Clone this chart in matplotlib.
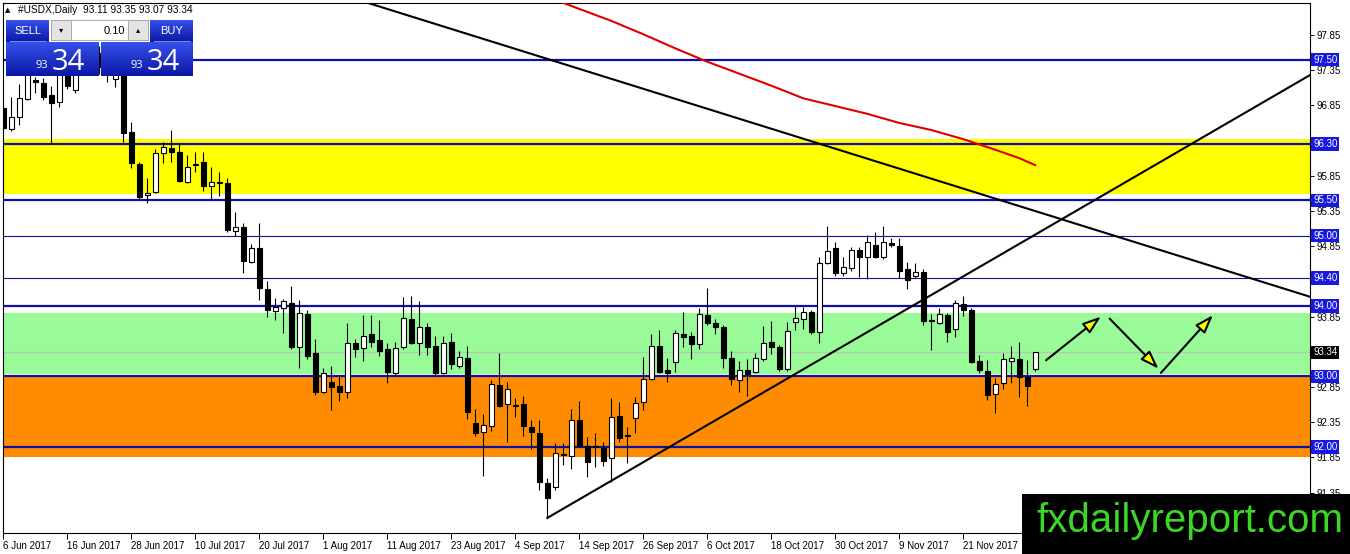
import numpy as np
import matplotlib.pyplot as plt
import matplotlib.transforms as mtransforms
from matplotlib.patches import Rectangle
from matplotlib.colors import LinearSegmentedColormap

plt.rcParams['font.family'] = ['Liberation Sans', 'DejaVu Sans']

# daily candles, bar 0 = 6 Jun 2017, last bar = 4 Dec 2017
opens = [96.81, 96.51, 96.69, 96.94, 97.21, 97.17, 97.00, 96.90, 97.30, 97.07,
         97.30, 97.45, 97.60, 97.40, 97.22, 97.35, 96.47, 96.02, 95.58, 95.62,
         96.17, 96.24, 96.19, 95.76, 96.02, 96.05, 95.70, 95.76, 95.75, 95.07,
         95.12, 94.63, 94.82, 94.24, 93.93, 93.97, 94.04, 93.42, 93.89, 93.33,
         92.78, 92.92, 92.86, 92.78, 93.47, 93.40, 93.60, 93.52, 93.39, 93.05,
         93.42, 93.82, 93.47, 93.70, 93.43, 93.05, 93.49, 93.15, 93.26, 92.34,
         92.21, 92.30, 92.88, 92.61, 92.59, 92.61, 92.28, 92.20, 91.49, 91.43,
         91.90, 91.87, 92.38, 92.01, 92.01, 91.98, 91.84, 92.44, 92.15, 92.41,
         92.64, 92.96, 93.43, 93.09, 93.20, 93.60, 93.57, 93.46, 93.87, 93.76,
         93.70, 93.26, 92.95, 93.09, 93.06, 93.25, 93.49, 93.42, 93.11, 93.77,
         93.82, 93.91, 93.63, 94.61, 94.82, 94.47, 94.54, 94.80, 94.70, 94.87,
         94.70, 94.89, 94.85, 94.53, 94.43, 94.48, 93.80, 93.76, 93.87, 93.67,
         94.03, 93.94, 93.22, 93.08, 92.75, 92.91, 93.22, 93.25, 92.99, 93.11]
highs = [96.83, 96.97, 97.15, 97.40, 97.25, 97.24, 97.13, 97.40, 97.40, 97.42,
         97.60, 97.75, 97.70, 97.50, 97.45, 97.45, 96.61, 96.05, 95.82, 96.23,
         96.33, 96.50, 96.32, 96.14, 96.19, 96.19, 95.97, 95.90, 95.82, 95.34,
         95.18, 94.88, 95.18, 94.36, 94.11, 94.10, 94.28, 94.09, 93.94, 93.53,
         93.12, 93.15, 93.02, 93.76, 93.53, 93.87, 93.87, 93.80, 93.47, 93.49,
         94.13, 94.14, 94.07, 93.76, 93.57, 93.57, 93.62, 93.36, 93.43, 92.54,
         92.47, 92.95, 93.33, 92.92, 92.69, 92.72, 92.38, 92.38, 91.56, 92.05,
         92.05, 92.54, 92.65, 92.14, 92.20, 92.07, 92.69, 92.64, 92.28, 92.71,
         93.28, 93.60, 93.66, 93.26, 93.66, 93.91, 93.63, 93.97, 94.26, 93.82,
         93.73, 93.36, 93.22, 93.25, 93.33, 93.72, 93.79, 93.45, 93.77, 94.01,
         93.99, 93.94, 94.70, 95.14, 94.91, 94.70, 94.84, 94.84, 95.01, 95.05,
         95.14, 94.97, 94.97, 94.63, 94.61, 94.53, 93.89, 93.97, 93.90, 94.09,
         94.14, 93.97, 93.30, 93.23, 92.98, 93.33, 93.43, 93.49, 93.23, 93.35]
lows = [96.50, 96.49, 96.57, 96.92, 97.03, 96.93, 96.30, 96.83, 97.08, 97.03,
        97.28, 97.35, 97.30, 97.18, 97.11, 96.33, 95.96, 95.51, 95.46, 95.61,
        96.03, 96.05, 95.76, 95.75, 95.90, 95.63, 95.51, 95.56, 95.05, 95.00,
        94.47, 94.61, 94.09, 93.84, 93.80, 93.62, 93.39, 93.12, 93.25, 92.74,
        92.76, 92.52, 92.65, 92.69, 93.28, 93.22, 93.42, 93.29, 92.91, 93.01,
        93.39, 93.46, 93.30, 93.30, 93.01, 93.03, 93.11, 93.12, 92.39, 92.15,
        91.59, 92.22, 92.57, 92.07, 92.42, 92.15, 91.97, 91.39, 90.99, 91.39,
        91.74, 91.68, 92.00, 91.57, 91.71, 91.73, 91.50, 92.07, 91.77, 92.20,
        92.52, 92.95, 93.05, 92.92, 93.06, 93.42, 93.25, 93.39, 93.73, 93.60,
        93.12, 92.88, 92.78, 92.72, 93.05, 93.22, 93.32, 93.08, 93.08, 93.66,
        93.67, 93.60, 93.47, 94.60, 94.43, 94.43, 94.50, 94.41, 94.38, 94.68,
        94.67, 94.84, 94.40, 94.24, 94.40, 93.73, 93.38, 93.75, 93.49, 93.56,
        93.86, 93.19, 93.05, 92.66, 92.48, 92.82, 92.91, 92.71, 92.58, 93.07]
closes = [96.53, 96.69, 96.96, 97.30, 97.18, 96.97, 96.88, 97.30, 97.12, 97.32,
          97.45, 97.60, 97.40, 97.30, 97.35, 96.46, 96.03, 95.55, 95.61, 96.17,
          96.26, 96.19, 95.78, 95.97, 96.01, 95.70, 95.76, 95.75, 95.08, 95.12,
          94.64, 94.82, 94.26, 93.94, 93.99, 94.07, 93.42, 93.90, 93.29, 92.78,
          93.05, 92.85, 92.78, 93.47, 93.39, 93.57, 93.49, 93.36, 93.06, 93.40,
          93.83, 93.47, 93.70, 93.42, 93.05, 93.47, 93.18, 93.28, 92.49, 92.20,
          92.31, 92.89, 92.58, 92.82, 92.58, 92.30, 92.21, 91.50, 91.27, 91.91,
          91.89, 92.38, 92.01, 91.78, 92.00, 91.80, 92.42, 92.13, 92.16, 92.62,
          92.96, 93.43, 93.06, 93.05, 93.62, 93.56, 93.46, 93.89, 93.76, 93.70,
          93.26, 92.96, 93.09, 93.03, 93.26, 93.47, 93.42, 93.11, 93.64, 93.83,
          93.91, 93.63, 94.61, 94.78, 94.47, 94.55, 94.80, 94.70, 94.91, 94.70,
          94.91, 94.87, 94.50, 94.37, 94.48, 93.79, 93.79, 93.89, 93.63, 94.04,
          93.94, 93.20, 93.09, 92.74, 92.89, 93.25, 93.26, 92.99, 92.86, 93.34]

date_ticks = [0, 8, 16, 24, 32, 40, 48, 56, 64, 72, 80, 88, 96, 104, 112, 120]
date_labels = ['6 Jun 2017', '16 Jun 2017', '28 Jun 2017', '10 Jul 2017', '20 Jul 2017',
               '1 Aug 2017', '11 Aug 2017', '23 Aug 2017', '4 Sep 2017', '14 Sep 2017',
               '26 Sep 2017', '6 Oct 2017', '18 Oct 2017', '30 Oct 2017', '9 Nov 2017',
               '21 Nov 2017']
price_ticks = [91.35, 91.85, 92.35, 92.85, 93.35, 93.85, 94.35, 94.85, 95.35, 95.85,
               96.35, 96.85, 97.35, 97.85]
# these tick labels sit under the price labels on the right and are not visible
covered_ticks = [93.35, 94.35, 96.35]

# horizontal levels and zones
levels = [97.50, 96.30, 95.50, 95.00, 94.40, 94.00, 93.00, 92.00]
thin_levels = [95.00, 94.40]
zone_yellow = (95.59, 96.37)
zone_green = (93.03, 93.90)
zone_orange = (91.86, 92.99)
last_price = 93.34

# moving average (red)
ma_bars = [68, 72, 76, 80, 84, 88, 92, 96, 100, 104, 108, 112, 116, 120, 124, 127, 129]
ma_values = [98.39, 98.22, 98.05, 97.86, 97.66, 97.47, 97.30, 97.13, 96.95, 96.84,
             96.73, 96.60, 96.50, 96.37, 96.22, 96.10, 96.00]

# trend lines
trend_down = [(46, 98.29), (160, 94.25)]
trend_up = [(68, 90.99), (160, 97.06)]

# projected path arrows
arrow_paths = [((130.35, 93.23), (137.2, 93.85)),
               ((138.3, 93.82), (144.4, 93.11)),
               ((144.7, 93.05), (151.2, 93.87))]

W, H = 1350, 554
fig = plt.figure(figsize=(W / 100, H / 100), dpi=100)
fig.patch.set_facecolor('white')
ax = fig.add_axes([3 / W, 21 / H, 1307 / W, 530 / H])
ax.set_xlim(-0.04, 163.34)
ax.set_ylim(90.776, 98.304)

# zones
ax.axhspan(*zone_yellow, color='#ffff00', lw=0, zorder=0)
ax.axhspan(*zone_green, color='#98fb98', lw=0, zorder=0)
ax.axhspan(*zone_orange, color='#ff8c00', lw=0, zorder=0)

ax.axhline(last_price, color='#c0c0c0', lw=0.8, zorder=1)
for lv in levels:
    ax.axhline(lv, color='#1010a8', lw=0.8 if lv in thin_levels else 1.6, zorder=1)

# candles
x = np.arange(len(opens))
o = np.array(opens)
c = np.array(closes)
ax.vlines(x, lows, highs, color='black', lw=0.8, zorder=4)
bull = c >= o
bottom = np.minimum(o, c)
height = np.maximum(np.abs(c - o), 0.012)
ax.bar(x[bull], height[bull], bottom=bottom[bull], width=0.62, facecolor='white',
       edgecolor='black', lw=0.8, zorder=5)
ax.bar(x[~bull], height[~bull], bottom=bottom[~bull], width=0.62, facecolor='black',
       edgecolor='black', lw=0.8, zorder=5)

# moving average and trend lines
ax.plot(ma_bars, ma_values, color='#e00000', lw=1.5, zorder=6)
ax.axline(trend_down[0], trend_down[1], color='black', lw=1.5, zorder=6)
slope = (trend_up[1][1] - trend_up[0][1]) / (trend_up[1][0] - trend_up[0][0])
x_end = ax.get_xlim()[1]
ax.plot([trend_up[0][0], x_end], [trend_up[0][1], trend_up[0][1] + slope * (x_end - trend_up[0][0])],
        color='black', lw=1.5, zorder=6)

for start, end in arrow_paths:
    ax.annotate('', xy=end, xytext=start,
                arrowprops=dict(arrowstyle='-|>,head_length=1.1,head_width=0.38',
                                fc='#ffff00', ec='black', lw=1.5,
                                shrinkA=0, shrinkB=0), zorder=7)

# axes styling
for sp in ax.spines.values():
    sp.set_linewidth(0.8)
    sp.set_color('black')
ax.yaxis.tick_right()
ax.set_yticks(price_ticks)
ax.set_yticklabels(['' if p in covered_ticks else f'{p:.2f}' for p in price_ticks])
ax.set_xticks(date_ticks)
ax.set_xticklabels(date_labels)
ax.tick_params(axis='y', direction='out', length=3, width=0.7, labelsize=7, pad=2)
ax.tick_params(axis='x', direction='out', length=4, width=0.7, labelsize=7, pad=2)
plt.setp(ax.get_xticklabels(), ha='left')

# price labels on the right
trans = mtransforms.blended_transform_factory(ax.transAxes, ax.transData)
for lv in levels:
    ax.text(1 + 3 / 1307, lv, f'{lv:.2f}', transform=trans, ha='left', va='center',
            color='white', fontsize=7, clip_on=False, zorder=10,
            bbox=dict(boxstyle='square,pad=0.18', fc='#1818e0', ec='none'))
ax.text(1 + 3 / 1307, last_price, f'{last_price:.2f}', transform=trans, ha='left',
        va='center', color='white', fontsize=7, clip_on=False, zorder=10,
        bbox=dict(boxstyle='square,pad=0.18', fc='black', ec='none'))

# overlay in pixel coordinates: header, trade panel, watermark
ov = fig.add_axes([0, 0, 1, 1])
ov.patch.set_visible(False)
ov.axis('off')

ov.text(5, 10, '\u25b2', fontsize=5, va='center', ha='left', family=['DejaVu Sans'])
ov.text(18, 10, '#USDX,Daily  93.11 93.35 93.07 93.34', fontsize=7.3, va='center', ha='left')

blue = LinearSegmentedColormap.from_list('btn', ['#3550ea', '#0c18a6'])
grad = np.linspace(0, 1, 64).reshape(-1, 1)


def blue_box(x0, y0, x1, y1):
    ov.imshow(grad, cmap=blue, extent=(x0, x1, y1, y0), aspect='auto', zorder=2)


blue_box(6, 20, 49, 42)
blue_box(150, 20, 193, 42)
blue_box(6, 42, 99, 76)
blue_box(101, 42, 193, 76)
ov.plot([10, 46], [40.5, 40.5], color='#8fa0f0', lw=0.6, zorder=3)
ov.plot([154, 190], [40.5, 40.5], color='#8fa0f0', lw=0.6, zorder=3)
ov.text(27.5, 30.5, 'SELL', color='white', fontsize=8, ha='center', va='center', zorder=4)
ov.text(171.5, 30.5, 'BUY', color='white', fontsize=8, ha='center', va='center', zorder=4)

ov.add_patch(Rectangle((51, 20), 97, 20, fc='white', ec='#a0a0a0', lw=0.6, zorder=2))
ov.add_patch(Rectangle((51, 20), 20, 20, fc='#e4e4e4', ec='#a0a0a0', lw=0.6, zorder=3))
ov.add_patch(Rectangle((128, 20), 20, 20, fc='#e4e4e4', ec='#a0a0a0', lw=0.6, zorder=3))
ov.text(61, 30, '\u25be', fontsize=6, ha='center', va='center', family=['DejaVu Sans'], zorder=4)
ov.text(138, 30, '\u25b4', fontsize=6, ha='center', va='center', family=['DejaVu Sans'], zorder=4)
ov.text(125, 30.5, '0.10', fontsize=8, ha='right', va='center', zorder=4)

for x0 in (6, 101):
    ov.text(x0 + 42, 68, '93', color='white', fontsize=8, ha='right', va='baseline',
            family=['Open Sans', 'DejaVu Sans'], zorder=4)
    ov.text(x0 + 46, 70, '34', color='white', fontsize=21, ha='left', va='baseline',
            family=['Open Sans', 'DejaVu Sans'], zorder=4)

ov.add_patch(Rectangle((1022, 494), 328, 60, fc='black', ec='none', zorder=2))
ov.text(1190, 521, 'fxdailyreport.com', color='#3cd626', fontsize=29, ha='center',
        va='center', zorder=3)

ov.set_xlim(0, W)
ov.set_ylim(H, 0)

fig.savefig('out.png', dpi=100)
